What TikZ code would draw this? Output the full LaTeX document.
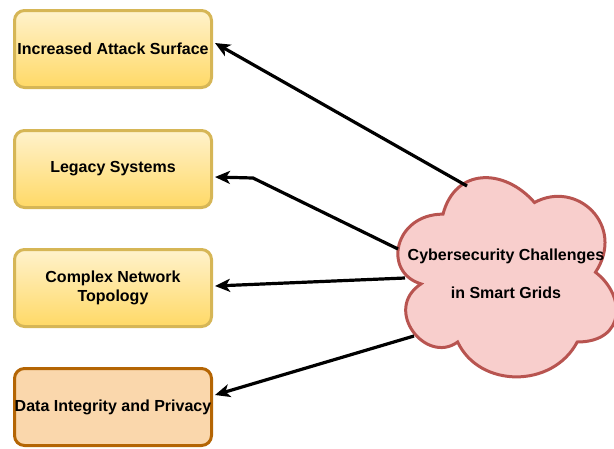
\documentclass[tikz,border=0pt]{standalone}
\usepackage{fontspec}
\setmainfont{Liberation Sans}
\usetikzlibrary{arrows.meta,calc}
\definecolor{ytop}{HTML}{FFF2CC}
\definecolor{ybot}{HTML}{FFD966}
\definecolor{ystroke}{HTML}{D6B656}
\definecolor{ofill}{HTML}{FAD7AC}
\definecolor{ostroke}{HTML}{B46504}
\definecolor{cfill}{HTML}{F8CECC}
\definecolor{cstroke}{HTML}{B85450}
\tikzset{
  txt/.style={font=\fontsize{16}{19.5}\selectfont\bfseries, align=center, text=black},
  ybox/.style={txt, draw=ystroke, line width=3pt, rounded corners=10pt,
    top color=ytop, bottom color=ybot, minimum width=197pt, minimum height=77pt, inner sep=0pt},
  obox/.style={txt, draw=ostroke, line width=3pt, rounded corners=10pt,
    fill=ofill, minimum width=197pt, minimum height=77pt, inner sep=0pt},
  conn/.style={line width=3.2pt, -{Stealth[length=15pt,width=13pt,inset=4pt]}},
  cloudshape/.style={draw=cstroke, fill=cfill, line width=3pt}
}
\begin{document}
\begin{tikzpicture}[x=1pt,y=-1pt]
\useasboundingbox (0,0) rectangle (614,448);
\begin{scope}
\clip (0,0) rectangle (614,448);
\def\X{382}\def\Y{156}\def\W{244}\def\H{232.5}
\draw[cloudshape]
  ({\X+0.25*\W},{\Y+0.25*\H})
  .. controls ({\X+0.05*\W},{\Y+0.25*\H}) and ({\X},{\Y+0.5*\H}) .. ({\X+0.16*\W},{\Y+0.55*\H})
  .. controls ({\X},{\Y+0.66*\H}) and ({\X+0.18*\W},{\Y+0.9*\H}) .. ({\X+0.31*\W},{\Y+0.8*\H})
  .. controls ({\X+0.4*\W},{\Y+\H}) and ({\X+0.7*\W},{\Y+\H}) .. ({\X+0.8*\W},{\Y+0.8*\H})
  .. controls ({\X+\W},{\Y+0.8*\H}) and ({\X+\W},{\Y+0.6*\H}) .. ({\X+0.875*\W},{\Y+0.5*\H})
  .. controls ({\X+\W},{\Y+0.3*\H}) and ({\X+0.8*\W},{\Y+0.1*\H}) .. ({\X+0.625*\W},{\Y+0.2*\H})
  .. controls ({\X+0.5*\W},{\Y+0.05*\H}) and ({\X+0.3*\W},{\Y+0.05*\H}) .. cycle;
\end{scope}
\node[txt] (ctext) at (506,274) {Cybersecurity Challenges\\[19pt]in Smart Grids};

\node[ybox] (b1) at (113,49) {Increased Attack Surface};
\node[ybox] (b2) at (113,169) {Legacy Systems};
\node[ybox] (b3) at (113,288) {Complex Network\\Topology};
\node[obox] (b4) at (113,407) {Data Integrity and Privacy};

\coordinate (s1) at (467,186);
\coordinate (s2) at (398,249);
\coordinate (bend2) at (253,178);
\coordinate (s3) at (405,278);
\coordinate (s4) at (414,336);

\draw[conn] (s1) -- ([xshift=2pt,yshift=6pt]b1.east);
\draw[conn] (s2) -- (bend2) -- ([xshift=2pt,yshift=-8pt]b2.east);
\draw[conn] (s3) -- ([xshift=2pt,yshift=2pt]b3.east);
\draw[conn] (s4) -- ([xshift=2pt,yshift=12pt]b4.east);
\end{tikzpicture}
\end{document}
